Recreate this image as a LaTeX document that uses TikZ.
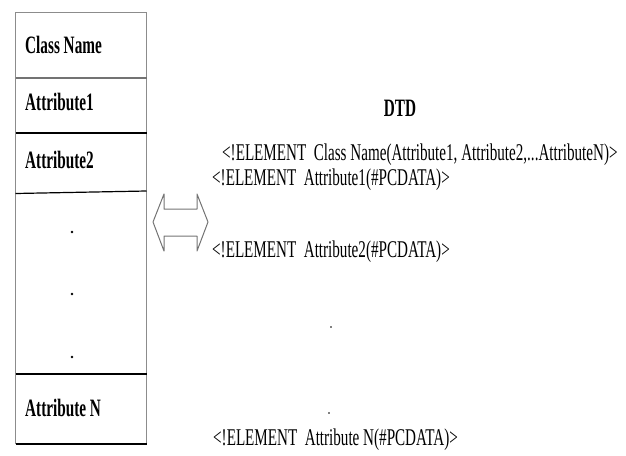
\documentclass[tikz,border=0pt]{standalone}
\usepackage{fontspec}
\setmainfont{Liberation Serif}
\newfontfamily\narrowserif[FakeStretch=0.61]{Liberation Serif}
\newfontfamily\dtdserif[FakeStretch=0.63]{Liberation Serif}
\usetikzlibrary{positioning}

\begin{document}
\begin{tikzpicture}[
  x=1pt, y=-1pt,
  boxlabel/.style={anchor=west, inner sep=0pt, font=\narrowserif\bfseries\fontsize{25}{27}\selectfont},
  dtdline/.style={anchor=west, inner sep=0pt, font=\dtdserif\fontsize{24}{26}\selectfont},
  border/.style={draw=black!45, line width=1.8pt},
  rowline/.style={draw=black, line width=1.2pt},
  dotmark/.style={fill=black, circle, inner sep=0pt, minimum size=2.6pt}
]
\useasboundingbox (0,0) rectangle (626,455);

% class box
\draw[border] (15.5,444) -- (15.5,12.5) -- (146.5,12.5) -- (146.5,444);
\draw[border, draw=black!55] (15.5,78) -- (146.5,78);
\draw[rowline] (15.5,133) -- (146.5,133);
\draw[rowline] (15.5,193.5) -- (146.5,191);
\draw[rowline] (15.5,374) -- (146.5,374);
\draw[rowline] (15.5,444) -- (146.5,444);

\node[boxlabel] (cname) at (25,45) {Class Name};
\node[boxlabel] (attr1) at (25,102) {Attribute1};
\node[boxlabel] (attr2) at (25,160) {Attribute2};
\node[boxlabel] (attrn) at (25,408) {Attribute N};
\node[dotmark] (bdot1) at (72,232) {};
\node[dotmark] (bdot2) at (72,294) {};
\node[dotmark] (bdot3) at (72,357) {};

% double arrow
\draw[draw=black!55, line width=1pt, line join=round]
  (153,222) -- (164,194) -- (164,209) -- (197,209) -- (197,194) -- (208,222)
  -- (197,251) -- (197,236) -- (164,236) -- (164,251) -- cycle;

% DTD side
\node[font=\narrowserif\bfseries\fontsize{25}{27}\selectfont] (dtd) at (400,108) {DTD};
\node[dtdline] (elclass) at (222,155) {<!ELEMENT\ \ Class Name(Attribute1, Attribute2,...AttributeN)>};
\node[dtdline] (elattr1) at (212,180) {<!ELEMENT\ \ Attribute1(\#PCDATA)>};
\node[dtdline] (elattr2) at (212,252) {<!ELEMENT\ \ Attribute2(\#PCDATA)>};
\node[dotmark, minimum size=1.8pt] (rdot1) at (331,327) {};
\node[dotmark, minimum size=1.8pt] (rdot2) at (329,413) {};
\node[dtdline] (elattrn) at (213,440) {<!ELEMENT\ \ Attribute N(\#PCDATA)>};
\end{tikzpicture}
\end{document}
